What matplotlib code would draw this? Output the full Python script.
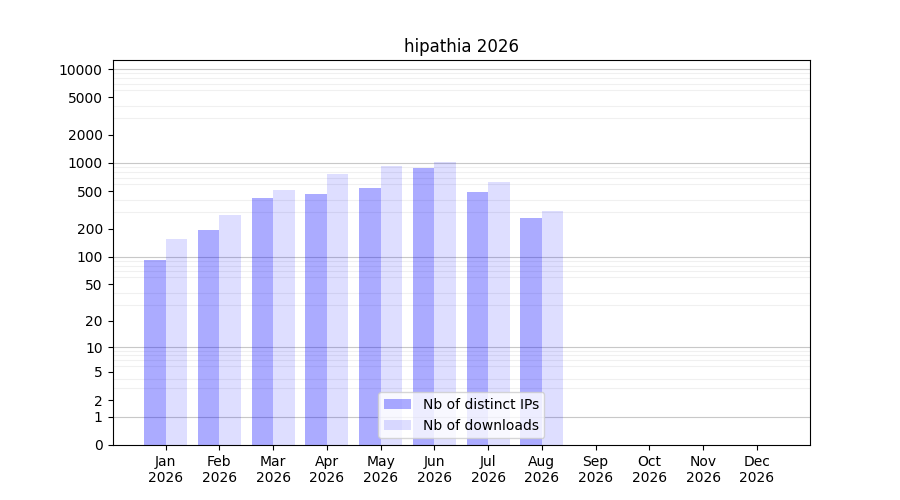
import numpy as np
import matplotlib
matplotlib.use("Agg")
import matplotlib.pyplot as plt

months = ["Jan", "Feb", "Mar", "Apr", "May", "Jun", "Jul", "Aug", "Sep", "Oct", "Nov", "Dec"]
year = "2026"
ips = [93, 194, 427, 471, 545, 890, 495, 261, 0, 0, 0, 0]
downloads = [155, 281, 519, 769, 935, 1032, 632, 310, 0, 0, 0, 0]
ytick_vals = [0, 1, 2, 5, 10, 20, 50, 100, 200, 500, 1000, 2000, 5000, 10000]

fig, ax = plt.subplots(figsize=(9, 5), dpi=100)
ax.set_yscale('function', functions=(lambda v: np.log10(1 + np.clip(v, 0, None)),
                                      lambda v: 10 ** v - 1))
x = np.arange(len(months))
ax.bar(x, ips, width=-0.4, align='edge', color='blue', alpha=0.33, label='Nb of distinct IPs')
ax.bar(x, downloads, width=0.4, align='edge', color='blue', alpha=0.13, label='Nb of downloads')

ax.set_ylim(0, 12470)
ax.set_yticks(ytick_vals)
ax.set_yticklabels([str(v) for v in ytick_vals])
minor = [k * 10 ** n for n in range(0, 5) for k in range(1, 10)]
minor = [m for m in minor if m <= 12470]
ax.set_yticks(minor, minor=True)
ax.tick_params(axis='y', which='minor', length=0)
ax.grid(True, which='minor', axis='y', color='#f0f0f0', linewidth=0.8)
for d in [1, 10, 100, 1000, 10000]:
    ax.axhline(d, color='#c8c8c8', linewidth=0.8, zorder=0.5)
ax.set_axisbelow(True)

ax.set_xticks(x)
ax.set_xticklabels([f"{m}\n{year}" for m in months])
ax.set_title("hipathia 2026")
ax.legend(loc='lower center')
fig.savefig("out.png")
